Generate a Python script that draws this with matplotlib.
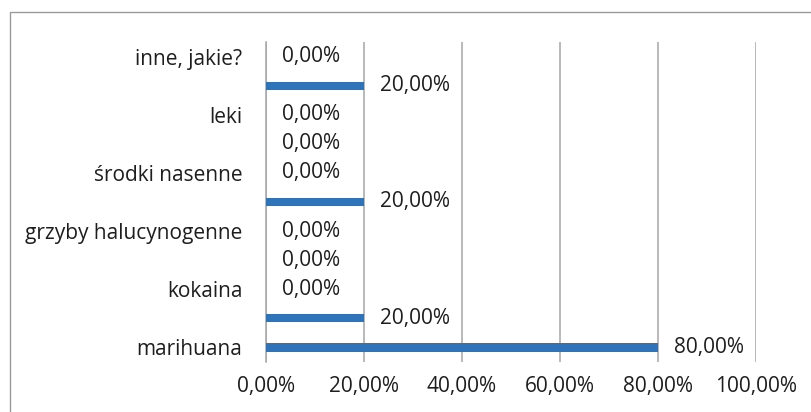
import matplotlib.pyplot as plt
from matplotlib.patches import Rectangle

plt.rcParams['font.family'] = ['Open Sans', 'DejaVu Sans']

# categories bottom -> top (every other label is hidden in the original)
categories = ['marihuana', '', 'kokaina', '', 'grzyby halucynogenne', '',
              'środki nasenne', '', 'leki', '', 'inne, jakie?']
values = [80, 20, 0, 0, 0, 20, 0, 0, 0, 20, 0]
x_ticks = [0, 20, 40, 60, 80, 100]

bar_color = '#2F73B9'
text_color = '#1E1E1E'
fs = 15

fig = plt.figure(figsize=(8.12, 4.12), dpi=100)
W, H = 812, 412
ax = fig.add_axes([266 / W, 1 - 362 / H, (756 - 266) / W, (362 - 42) / H])

y = list(range(len(categories)))
ax.barh(y, values, height=0.28, color=bar_color, zorder=3)

def fmt(v):
    return f'{v:.2f}%'.replace('.', ',')

for yi, v in zip(y, values):
    ax.text(v + 3.3, yi, fmt(v), va='center', ha='left', fontsize=fs,
            color=text_color)

ax.set_xlim(0, 100)
ax.set_ylim(-0.5, len(categories) - 0.5)
ax.set_xticks(x_ticks)
ax.set_xticklabels([fmt(t) for t in x_ticks], fontsize=fs, color=text_color)
ax.set_yticks(y)
ax.set_yticklabels(categories, fontsize=fs, color=text_color)
ax.tick_params(axis='both', length=0)
ax.tick_params(axis='y', pad=17)
ax.tick_params(axis='x', pad=10)
ax.xaxis.grid(True, color='#A6A6A6', linewidth=1.1)
ax.set_axisbelow(True)
for s in ax.spines.values():
    s.set_visible(False)
ax.spines['left'].set_visible(True)
ax.spines['left'].set_color('#A6A6A6')
ax.spines['left'].set_linewidth(1.1)

# outer chart border
fig.patches.append(Rectangle((10 / W, -0.1), 1.2, 1 - 12 / H + 0.1,
                             transform=fig.transFigure, fill=False,
                             edgecolor='#9A9A9A', linewidth=1.0))

fig.savefig('out.png', dpi=100)
